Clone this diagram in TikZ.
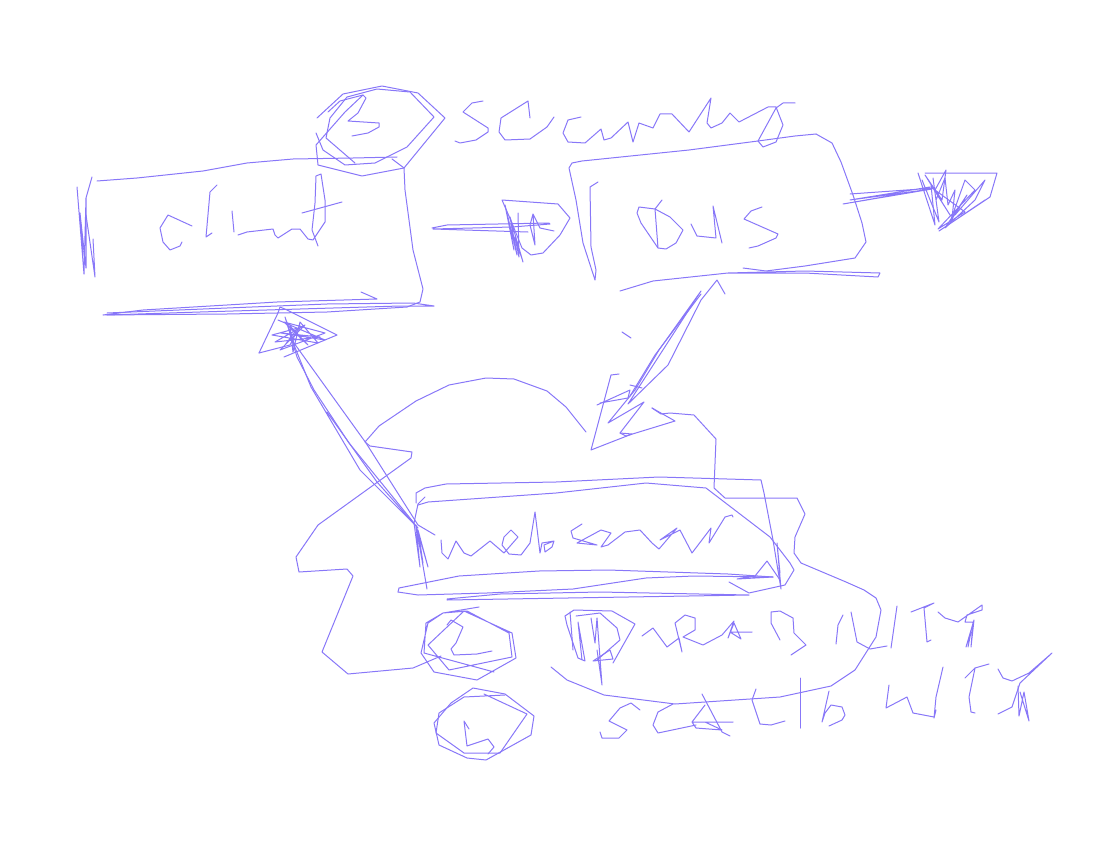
\documentclass[tikz,border=0pt]{standalone}
\tikzset{ink/.style={draw=inkcol,line width=1pt,line join=round,line cap=round}}
\definecolor{inkcol}{HTML}{8877F8}
\newcommand{\st}[1]{\draw[ink] plot coordinates {#1};}
\begin{document}
\begin{tikzpicture}[x=1pt,y=-1pt]
\useasboundingbox (0,0) rectangle (1110,864);
% client box
\st{(97,181)(137,178)(203,171)(247,163)(293,159)(353,158)(397,157)}
\st{(392,159)(404,168)(405,190)(413,250)(423,289)(420,302)(407,307)(327,312)(227,314)(103,315)(143,310)(227,305)(277,302)(377,299)(361,292)}
\st{(107,313)(227,308)(327,304)(413,303)(434,306)(400,306)(300,309)(200,312)(107,315)}
\st{(77,187)(84,274)(86,198)(92,177)(86,198)(86,268)(80,213)(83,255)}
\st{(86,215)(95,277)(93,239)}
% circle B
\st{(317,118)(343,94)(382,86)(418,93)(445,118)(404,168)(362,176)(318,165)(316,145)(345,112)(363,95)}
\st{(316,133)(323,150)(345,165)(375,163)(407,147)(434,117)(410,92)(377,89)(347,97)(330,118)(326,138)(355,163)}
\st{(328,112)(340,101)(363,95)(366,98)(358,113)(348,121)(379,123)(379,127)(368,133)(352,136)}
% client
\st{(192,226)(168,215)(160,228)(163,242)(170,250)(180,246)(182,242)}
\st{(217,185)(210,192)(206,237)(212,233)}
\st{(232,211)(234,232)}
\st{(238,235)(247,232)(273,229)(275,235)(278,238)(292,229)(300,229)(308,239)(313,240)(325,222)(325,200)(321,174)(316,176)(315,203)(312,230)(318,246)}
\st{(302,213)(342,202)}
% security
\st{(483,101)(472,103)(463,112)(488,128)(488,132)(476,140)(460,143)(455,141)}
\st{(530,118)(528,101)(501,118)(499,132)(505,140)(530,139)(547,127)(554,117)}
\st{(581,117)(568,120)(563,133)(568,142)(585,143)(601,129)(604,140)(611,138)(628,122)(633,142)(639,123)(653,128)(660,114)(672,114)(689,132)(711,98)(707,123)(711,128)(722,123)(730,113)(739,122)(768,107)(776,107)(783,125)(776,142)(763,147)(758,141)(776,108)(783,103)(795,103)}
% DNS box
\st{(816,134)(795,136)(758,141)(689,150)(582,161)(572,163)(569,168)(576,200)(583,243)(595,280)(596,270)(591,247)(590,187)(598,182)}
\st{(816,134)(832,143)(841,162)(853,195)(862,223)(866,242)(855,258)(805,266)(766,271)(743,268)}
\st{(620,291)(653,281)(728,273)(805,271)(880,273)(878,277)(805,273)(728,273)(653,281)}
\st{(662,200)(655,209)(639,207)(637,213)(641,223)(658,248)(666,249)(676,243)(683,230)(670,217)(655,209)(658,248)}
\st{(691,224)(697,236)(716,238)(713,206)(722,243)}
\st{(762,207)(751,211)(744,219)(778,234)(776,238)(758,246)(749,248)}
% client to DNS arrow
\st{(432,228)(447,225)(549,223)(550,224)(512,227)(433,229)(528,232)}
\st{(502,200)(558,204)(570,218)(560,235)(543,253)(531,255)(522,248)(512,223)(502,200)}
\st{(518,213)(519,257)(515,237)(523,262)(510,217)(517,255)(505,205)(514,250)}
\st{(533,214)(535,245)(530,225)(533,214)(540,228)(554,231)}
% DNS right arrow
\st{(850,194)(935,188)(843,204)(932,189)(850,200)(930,187)}
\st{(925,173)(997,173)(990,197)(939,231)(985,200)}
\st{(918,173)(935,225)(931,185)(950,215)(925,175)(942,200)(946,170)(935,190)(965,212)(938,229)(975,190)(965,180)(950,222)(967,195)(945,228)(975,200)(985,180)(955,215)}
\st{(922,180)(939,222)(933,178)(936,200)(945,178)(948,205)(955,190)(952,218)}
% DNS to webserver arrow
\st{(725,294)(717,280)(701,300)(668,365)(628,404)(701,291)(659,350)(635,390)(608,423)(644,402)(620,433)(626,436)(675,421)(652,408)}
\st{(701,294)(655,355)(630,396)}
\st{(619,374)(611,375)(591,450)(632,434)(620,433)}
\st{(597,405)(630,390)(628,398)(600,403)}
\st{(630,385)(642,388)}
\st{(622,332)(631,338)}
% cloud
\st{(586,432)(566,407)(547,391)(514,379)(486,378)(449,385)(416,401)(379,426)(365,442)(370,446)(412,452)(411,458)(318,525)(296,557)(299,572)(347,569)(353,576)(322,652)(348,674)(413,668)(441,656)}
\st{(652,408)(661,414)(670,413)(694,415)(716,439)(714,488)(725,498)(797,498)(805,514)(795,537)(794,553)(801,563)(846,582)(864,590)(876,598)(881,610)(876,637)(855,670)(831,686)(780,697)(675,704)(604,695)(567,680)(551,667)}
% webserver box
\st{(416,503)(416,493)(425,488)(446,484)(556,482)(659,477)(761,480)(764,493)(773,540)(781,589)(777,543)(780,573)}
\st{(418,505)(428,502)(556,493)(646,483)(706,488)(770,537)(790,563)(794,570)(785,585)(749,593)(729,582)}
\st{(398,592)(418,595)(487,593)(573,589)(646,578)(694,576)(773,577)(737,579)(755,576)(767,561)(780,580)}
\st{(398,592)(399,588)(459,576)(539,571)(608,570)(728,574)(773,577)}
\st{(447,600)(749,595)(600,592)(500,594)(447,599)}
\st{(425,497)(418,504)(414,523)(420,567)(416,525)(428,567)(418,530)(423,563)(416,525)(427,589)}
% arrow to client
\st{(435,535)(418,525)(366,443)(294,343)(285,317)(297,357)(314,390)(349,443)(414,523)}
\st{(327,412)(377,482)(418,528)(360,470)(311,387)(290,335)}
% arrow head near client
\st{(259,353)(278,313)(280,307)(287,310)(337,335)(284,357)}
\st{(259,353)(290,345)(300,325)}
\st{(278,320)(325,340)(281,333)(320,337)(275,342)(305,325)(280,350)(325,333)(284,322)(308,345)(290,326)(293,352)(300,322)(318,343)(272,335)(298,328)(285,345)}
% webserver text
\st{(441,540)(442,553)(448,559)(456,541)(464,553)(471,556)(490,541)(504,553)(518,537)(511,530)(504,537)(502,545)(509,554)(521,555)(530,543)(535,512)(540,553)(542,543)(554,541)(552,547)(545,552)(544,545)(554,541)}
\st{(582,524)(571,531)(573,538)(597,545)(577,543)(601,530)(611,533)(601,547)(608,545)(625,532)(640,530)(652,543)(659,549)(677,528)(660,540)(680,530)(692,553)(711,528)(709,543)(725,517)(732,515)(733,517)}
% circle 2
\st{(479,607)(443,613)(428,623)(421,653)(434,672)(477,680)(516,658)(512,633)(464,611)(428,645)(449,670)(512,657)(509,633)(467,611)(443,613)(426,623)(424,653)(494,672)}
\st{(447,625)(451,620)(463,627)(456,643)(451,649)(454,655)(477,654)(492,651)}
% circle L
\st{(473,688)(505,694)(534,716)(531,735)(486,760)(467,758)(439,745)(434,723)(451,703)(473,688)}
\st{(484,694)(527,714)(500,753)(464,753)(436,733)(439,713)(464,697)(505,695)}
\st{(469,729)(464,721)(467,746)(488,739)(494,747)(488,754)}
% P
\st{(565,616)(574,610)(612,611)(635,624)(613,663)}
\st{(576,616)(600,613)(617,628)(620,640)(597,660)}
\st{(565,616)(567,625)(578,658)(585,661)(578,622)(582,660)}
\st{(570,612)(573,650)}
\st{(591,618)(595,643)(597,618)(602,685)(597,650)}
\st{(593,661)(610,650)(613,659)(593,661)}
% ARAB
\st{(642,636)(653,628)(667,647)(679,638)(682,652)(675,623)(685,615)(695,618)(695,630)(683,637)(703,645)(722,635)(734,621)(728,638)(734,623)(741,639)(730,632)(752,632)}
\st{(780,640)(771,623)(771,612)(780,611)(793,618)(794,633)(806,645)(791,655)}
\st{(836,644)(838,625)(843,615)}
\st{(851,612)(857,642)(870,649)(887,646)}
\st{(897,606)(891,648)}
\st{(911,612)(934,603)(924,608)(927,642)(931,640)}
\st{(938,612)(945,618)(958,622)(982,605)(982,610)(967,615)(965,622)(973,622)(971,647)(974,620)(966,647)(971,632)(968,647)}
% SCALABILITY
\st{(640,710)(631,703)(620,708)(609,721)(627,730)(619,738)(602,738)(600,732)}
\st{(673,704)(658,712)(653,725)(658,733)(696,725)}
\st{(702,694)(722,732)(730,736)}
\st{(705,705)(692,722)(733,722)(705,722)(722,730)(696,728)(692,722)}
\st{(756,689)(752,700)(760,724)(771,725)(785,721)}
\st{(800,678)(800,728)}
\st{(829,691)(822,722)(825,713)(831,705)(842,707)(845,715)(842,720)(829,726)}
\st{(889,685)(886,708)(907,697)(913,713)(934,717)(936,710)(934,718)(936,697)(943,667)}
\st{(989,664)(975,668)(965,678)}
\st{(975,668)(969,697)(971,712)(975,713)}
\st{(998,669)(1003,678)(1012,681)(1029,673)(1052,653)(1020,683)(1012,707)(998,714)}
\st{(1018,686)(1019,716)(1024,692)(1029,721)(1020,692)}
\end{tikzpicture}
\end{document}
